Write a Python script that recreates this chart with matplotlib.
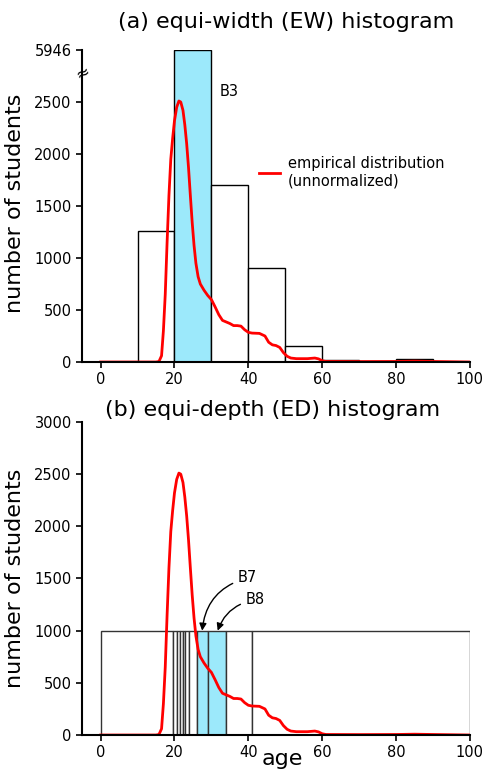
import numpy as np
import matplotlib.pyplot as plt

# equi-width histogram (a)
ew_left = [10, 20, 30, 40, 50, 60, 70, 80]
ew_counts = [1260, 5946, 1700, 905, 155, 18, 8, 25]
ew_highlight = [1]

# equi-depth histogram (b)
ed_edges = [0, 19.5, 20.6, 21.4, 22.2, 22.9, 24.0, 26.0, 29.1, 33.9, 40.9, 100]
ed_counts = [1000] * 11
ed_highlight = [7, 8]

# empirical distribution (unnormalized)
curve_age = [0, 10, 15, 15.8, 16.5, 17, 17.5, 18, 18.5, 19, 19.5, 20, 20.6, 21.2, 21.7,
             22.3, 22.8, 23.3, 23.8, 24.3, 24.8, 25.3, 25.8, 26.4, 27, 28, 29, 30, 31,
             32, 33, 34, 35, 36, 37, 38, 39, 40, 41, 43, 44.5, 45.5, 46.5, 47.5, 48.5,
             49.5, 50.5, 51.5, 53, 56, 58, 59, 60, 61, 70, 80, 85, 90, 100]
curve_count = [0, 0, 0, 5, 60, 300, 650, 1150, 1600, 1950, 2150, 2320, 2450, 2510, 2500,
               2420, 2280, 2100, 1870, 1600, 1340, 1120, 950, 820, 750, 690, 640, 600, 530,
               455, 400, 385, 370, 350, 350, 345, 310, 285, 278, 275, 250, 190, 165, 158, 140,
               90, 55, 38, 32, 32, 38, 30, 12, 5, 4, 5, 8, 5, 0]

yticks_a = [0, 500, 1000, 1500, 2000, 2500, 5946]
yticks_b = [0, 500, 1000, 1500, 2000, 2500, 3000]
xticks = [0, 20, 40, 60, 80, 100]

CYAN = '#9ce9fb'
RED = '#ff0000'

# broken y axis: linear up to T, compressed above
T = 2750
K = 250 / (5946 - T)


def fwd(v):
    v = np.asarray(v, dtype=float)
    return np.where(v <= T, v, T + (v - T) * K)


def inv(d):
    d = np.asarray(d, dtype=float)
    return np.where(d <= T, d, T + (d - T) / K)


def style_axes(ax):
    for s in ['top', 'right']:
        ax.spines[s].set_visible(False)
    for s in ['left', 'bottom']:
        ax.spines[s].set_linewidth(1.5)
    ax.tick_params(labelsize=10.5, width=1.2, length=4, direction='out')
    ax.set_xlim(-5, 100)
    ax.set_xticks(xticks)
    ax.set_ylabel('number of students', fontsize=16)
    ax.yaxis.set_label_coords(-0.147, 0.5)


fig = plt.figure(figsize=(4.89, 7.72), dpi=100)

# (a) equi-width
ax1 = fig.add_axes([0.168, 0.5311, 0.793, 0.4041])
colors_a = [CYAN if i in ew_highlight else 'white' for i in range(len(ew_counts))]
ax1.set_yscale('function', functions=(fwd, inv))
ax1.bar(ew_left, ew_counts, width=10, align='edge', color=colors_a,
        edgecolor='black', linewidth=1)
ax1.plot(curve_age, curve_count, color=RED, lw=2,
         label='empirical distribution\n(unnormalized)')
ax1.set_ylim(0, 5946)
ax1.set_yticks(yticks_a)
ax1.set_yticklabels([str(t) for t in yticks_a])
ax1.minorticks_off()
style_axes(ax1)
ax1.yaxis.set_label_coords(-0.147, 0.51)
# axis break marker
ax1.text(0.002, 0.927, '≈', transform=ax1.transAxes, rotation=25, ha='center',
         va='center', fontsize=12, color='black')
ax1.text(32.3, 2600, 'B3', fontsize=10.5, va='center')
ax1.legend(frameon=False, loc='upper left', bbox_to_anchor=(0.455, 0.66),
           fontsize=10.5, handlelength=1.5, handletextpad=0.5,
           borderpad=0, borderaxespad=0)

# (b) equi-depth
ax2 = fig.add_axes([0.168, 0.0479, 0.793, 0.4055])
widths = np.diff(ed_edges)
colors_b = [CYAN if i in ed_highlight else 'white' for i in range(len(ed_counts))]
ax2.bar(ed_edges[:-1], ed_counts, width=widths, align='edge', color=colors_b,
        edgecolor='#333333', linewidth=1)
ax2.plot(curve_age, curve_count, color=RED, lw=2)
ax2.set_ylim(0, 3000)
ax2.set_yticks(yticks_b)
style_axes(ax2)
ax2.set_xlabel('age', fontsize=16)
ax2.xaxis.set_label_coords(0.515, -0.045)

ax2.annotate('B7', xy=(27.5, 1000), xytext=(37.2, 1505), fontsize=10.5, va='center',
             arrowprops=dict(arrowstyle='-|>', color='black', lw=1,
                             connectionstyle='arc3,rad=0.35', shrinkA=2, shrinkB=0))
ax2.annotate('B8', xy=(31.7, 1000), xytext=(39.3, 1294), fontsize=10.5, va='center',
             arrowprops=dict(arrowstyle='-|>', color='black', lw=1,
                             connectionstyle='arc3,rad=0.3', shrinkA=2, shrinkB=0))

fig.text(286 / 489, 1 - 28 / 772, '(a) equi-width (EW) histogram', fontsize=16,
         ha='center', va='baseline')
fig.text(273 / 489, 1 - 416 / 772, '(b) equi-depth (ED) histogram', fontsize=16,
         ha='center', va='baseline')

fig.savefig('out.png', dpi=100)
